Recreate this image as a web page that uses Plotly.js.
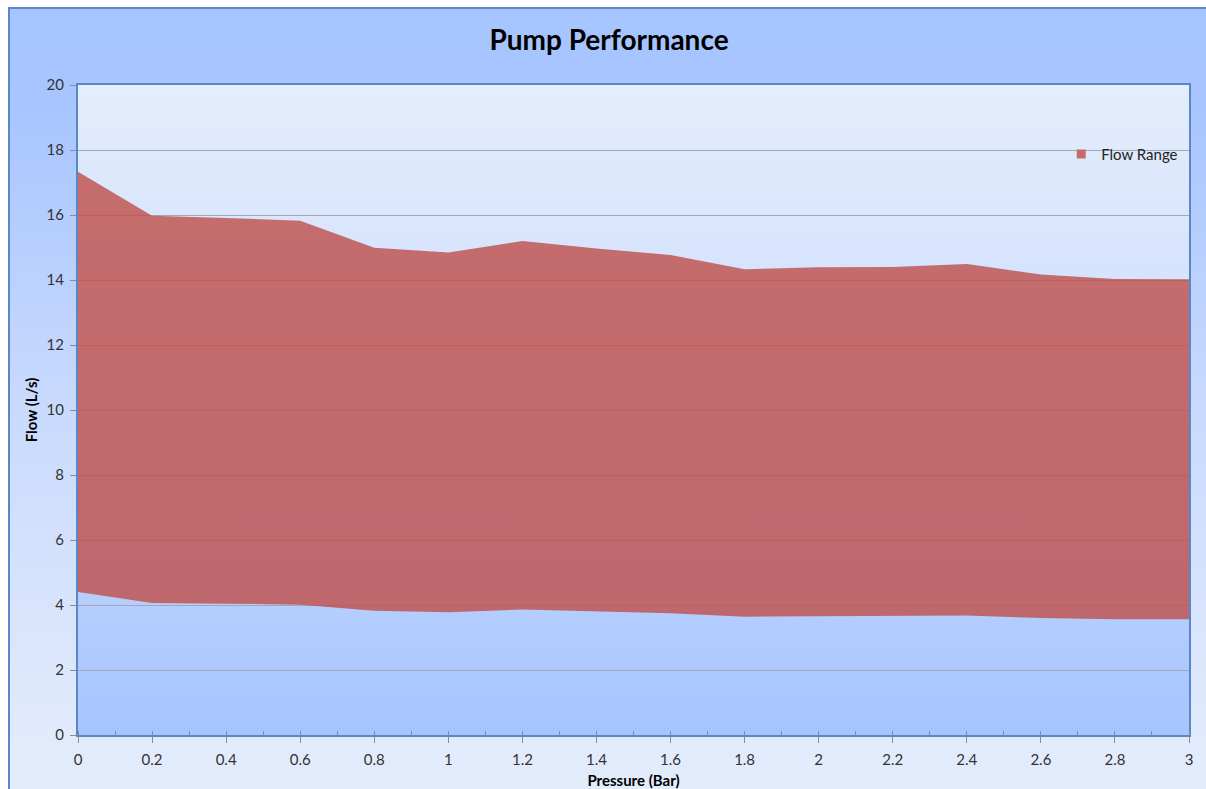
<!DOCTYPE html>
<html>
<head>
<meta charset="utf-8">
<script src="https://cdn.plot.ly/plotly-3.0.1.min.js"></script>
<style>
  html, body { margin: 0; padding: 0; background: #ffffff; }
  #wrap { position: relative; width: 1206px; height: 789px; overflow: hidden; background: #ffffff; }
  #frame { position: absolute; left: 8px; top: 7px; width: 1210px; height: 800px;
    border-left: 2px solid #5b87c6; border-top: 2px solid #5b87c6;
    background: linear-gradient(to bottom, #a6c4ff 0%, #a8c5ff 12%, #c9dafd 50%, #e2ebfc 92%, #e3ecfc 100%); }
  #plotbg { position: absolute; left: 78px; top: 85px; width: 1111px; height: 650px;
    background: linear-gradient(to bottom, #e4edfc 0%, #d6e3fd 30%, #c0d5fe 65%, #a6c4ff 100%); }
  #chart { position: absolute; left: 0; top: 0; width: 1206px; height: 789px; }
</style>
</head>
<body>
<div id="wrap">
  <div id="frame"></div>
  <div id="plotbg"></div>
  <div id="chart"></div>
</div>
<script>
const pressure = [0, 0.2, 0.4, 0.6, 0.8, 1.0, 1.2, 1.4, 1.6, 1.8, 2.0, 2.2, 2.4, 2.6, 2.8, 3.0];
const flowMin  = [4.40, 4.06, 4.04, 4.01, 3.82, 3.78, 3.86, 3.81, 3.75, 3.64, 3.65, 3.66, 3.68, 3.60, 3.56, 3.56];
const flowMax  = [17.33, 15.98, 15.91, 15.82, 14.99, 14.85, 15.20, 14.97, 14.77, 14.33, 14.39, 14.40, 14.49, 14.17, 14.03, 14.02];
const seriesName = 'Flow Range';
const chartTitle = 'Pump Performance';
const xTitle = 'Pressure (Bar)';
const yTitle = 'Flow (L/s)';

const FONT = 'Lato, "Open Sans", sans-serif';
const RED = 'rgba(192,80,77,0.82)';

const traces = [
  {
    x: pressure, y: flowMin, type: 'scatter', mode: 'lines',
    line: { width: 0, color: 'rgba(0,0,0,0)' },
    showlegend: false, hoverinfo: 'skip'
  },
  {
    x: pressure, y: flowMax, type: 'scatter', mode: 'lines',
    name: seriesName, showlegend: false,
    fill: 'tonexty', fillcolor: RED,
    line: { width: 0, color: RED }
  },
  {
    // legend-only entry (square swatch like the reference)
    x: [null], y: [null], type: 'scatter', mode: 'markers',
    name: seriesName, showlegend: true,
    marker: { symbol: 'square', size: 9, color: '#c96a6a' }
  }
];

const layout = {
  width: 1206, height: 789,
  margin: { l: 78, r: 17, t: 85, b: 54, pad: 0 },
  paper_bgcolor: 'rgba(0,0,0,0)',
  plot_bgcolor: 'rgba(0,0,0,0)',
  font: { family: FONT, size: 15, color: '#333333' },
  title: {
    text: chartTitle,
    font: { family: FONT, size: 28, color: '#000000', weight: 'bold' },
    xref: 'container', x: 0.505, xanchor: 'center',
    yref: 'container', y: 0.949, yanchor: 'middle'
  },
  xaxis: {
    range: [0, 3], tick0: 0, dtick: 0.2, tickmode: 'linear',
    ticks: 'outside', ticklen: 6, tickcolor: '#8c8c8c', tickwidth: 1,
    ticklabelstandoff: 4,
    minor: { ticks: 'inside', dtick: 0.1, ticklen: 4, tickcolor: '#8c8c8c', showgrid: false },
    showgrid: false, zeroline: false,
    showline: true, mirror: true, linecolor: '#5b87c6', linewidth: 2,
    tickfont: { family: FONT, size: 15, color: '#333333' },
    title: { text: xTitle, font: { family: FONT, size: 15, color: '#000000', weight: 'bold' }, standoff: 8 }
  },
  yaxis: {
    range: [0, 20], tick0: 0, dtick: 2, tickmode: 'linear',
    ticks: 'outside', ticklen: 6, tickcolor: '#8c8c8c', tickwidth: 1,
    ticklabelstandoff: 3,
    showgrid: true, gridcolor: '#a3a8b0', gridwidth: 1, zeroline: false,
    showline: true, mirror: true, linecolor: '#5b87c6', linewidth: 2,
    tickfont: { family: FONT, size: 15, color: '#333333' },
    title: { text: yTitle, font: { family: FONT, size: 15, color: '#000000', weight: 'bold' }, standoff: 5 }
  },
  legend: {
    x: 0.885, xanchor: 'left', y: 0.919, yanchor: 'top',
    bgcolor: 'rgba(0,0,0,0)', borderwidth: 0,
    font: { family: FONT, size: 15, color: '#222222' },
    itemwidth: 30
  },
  showlegend: true
};

Plotly.newPlot('chart', traces, layout, { displayModeBar: false, staticPlot: true });
</script>
</body>
</html>
